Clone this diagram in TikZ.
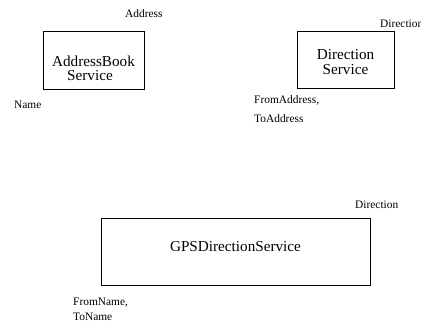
\documentclass[tikz,border=0pt]{standalone}
\usepackage{fontspec}
\setmainfont{Liberation Serif}
% a two-line service title, lowered by #1 inside its box
\newcommand{\svctitle}[2]{\raisebox{-#1}[0pt][0pt]{\begin{tabular}{@{}c@{}}#2\end{tabular}}}
\begin{document}
\begin{tikzpicture}[x=1pt,y=-1pt,
  service/.style={draw,line width=0.8pt,inner sep=0pt,
    font=\fontsize{15.2}{13.5}\selectfont},
  port/.style={inner sep=0pt,anchor=west,align=left,
    font=\fontsize{11.4}{19}\selectfont}]
\clip (0,0) rectangle (421,324);
% services
\node[service,minimum width=101pt,minimum height=58pt] (abs) at (93.5,60)
  {\svctitle{13.8pt}{AddressBook\\Service\hspace*{7pt}}};
\node[service,font=\fontsize{15.2}{15}\selectfont,
      minimum width=97pt,minimum height=57pt] (ds) at (345.5,59.5)
  {\svctitle{8.3pt}{Direction\\Service}};
\node[service,minimum width=269pt,minimum height=67pt] (gps) at (235.5,251.5)
  {\raisebox{0pt}[0pt][0pt]{GPSDirectionService}};
% interface labels
\node[port] (absout) at (125,14) {Address};
\node[port] (absin) at (14,105) {Name};
\node[port] (dsout) at (380,24) {Direction};
\node[port] (dsin) at (254,109.5) {FromAddress,\\ToAddress};
\node[port] (gpsout) at (355,205) {Direction};
\node[port,font=\fontsize{11.4}{15}\selectfont] (gpsin) at (73,309.5) {FromName,\\ToName};
\end{tikzpicture}
\end{document}
